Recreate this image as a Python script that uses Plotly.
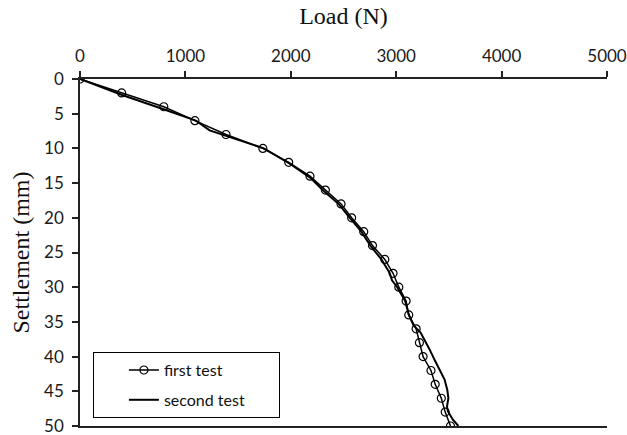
import plotly.graph_objects as go

# First test: load (N) vs settlement (mm), readings every 2 mm
first_load = [0, 395, 795, 1090, 1385, 1735, 1980, 2182, 2328, 2477, 2577,
              2692, 2775, 2892, 2970, 3025, 3094, 3119, 3189, 3220, 3255,
              3330, 3370, 3428, 3465, 3515]
first_settle = [0, 2, 4, 6, 8, 10, 12, 14, 16, 18, 20, 22, 24, 26, 28, 30,
                32, 34, 36, 38, 40, 42, 44, 46, 48, 50]

# Second test: continuous record
second_load = [0, 400, 800, 1100, 1230, 1395, 1600, 1745, 1990, 2190, 2310,
               2460, 2560, 2670, 2755, 2860, 2940, 2960, 3010, 3085, 3120,
               3165, 3230, 3270, 3318, 3365, 3412, 3459, 3485, 3495, 3482,
               3491, 3538, 3590]
second_settle = [0, 2.3, 4.4, 6.0, 7.4, 8.2, 9.2, 10.0, 12.2, 14.3, 16.1,
                 18.1, 20.0, 22.0, 24.0, 26.0, 28.0, 29.0, 30.0, 32.0, 34.0,
                 35.5, 36.5, 37.6, 39.0, 40.5, 41.8, 43.3, 44.8, 46.0, 47.2,
                 47.9, 49.1, 50.0]

x_ticks = [0, 1000, 2000, 3000, 4000, 5000]
y_ticks = [0, 5, 10, 15, 20, 25, 30, 35, 40, 45, 50]

# trailing no-break spaces pad the legend box on the right
pad = "\u00a0" * 7

fig = go.Figure()
fig.add_trace(go.Scatter(
    x=first_load, y=first_settle, name="first test" + pad, mode="lines+markers",
    legendgroup="a",
    line=dict(color="black", width=1.5),
    marker=dict(symbol="circle-open", size=8, color="black",
                line=dict(width=1.2, color="black")),
))
fig.add_trace(go.Scatter(
    x=second_load, y=second_settle, name="second test" + pad, mode="lines",
    legendgroup="b",
    line=dict(color="black", width=2),
))

axis_line = dict(showline=True, linecolor="#222222", linewidth=1.5,
                 ticks="outside", ticklen=6, tickcolor="#222222", tickwidth=1.5,
                 showgrid=False, zeroline=False, ticklabeloverflow="allow",
                 automargin=False,
                 tickfont=dict(family="Lato", size=17, color="#1a1a1a"))

fig.update_layout(
    width=627, height=435,
    margin=dict(l=80, r=20, t=79, b=9, autoexpand=False),
    paper_bgcolor="white", plot_bgcolor="white",
    xaxis=dict(axis_line, side="top", range=[0, 5000], tickvals=x_ticks,
               mirror=True, ticklabelstandoff=2,
               title=dict(text="Load (N)", standoff=14,
                          font=dict(family="Liberation Serif", size=24,
                                    color="#111111"))),
    yaxis=dict(axis_line, range=[50, 0], tickvals=y_ticks,
               ticklabelstandoff=5,
               title=dict(text="Settlement (mm)", standoff=8,
                          font=dict(family="Liberation Serif", size=24,
                                    color="#111111"))),
    legend=dict(x=0.0245, y=0.213, xanchor="left", yanchor="top",
                bgcolor="white", bordercolor="black", borderwidth=1,
                font=dict(family="Lato", size=16, color="#111111"),
                tracegroupgap=6, indentation=30),
    showlegend=True,
)

fig.write_html("out.html")
